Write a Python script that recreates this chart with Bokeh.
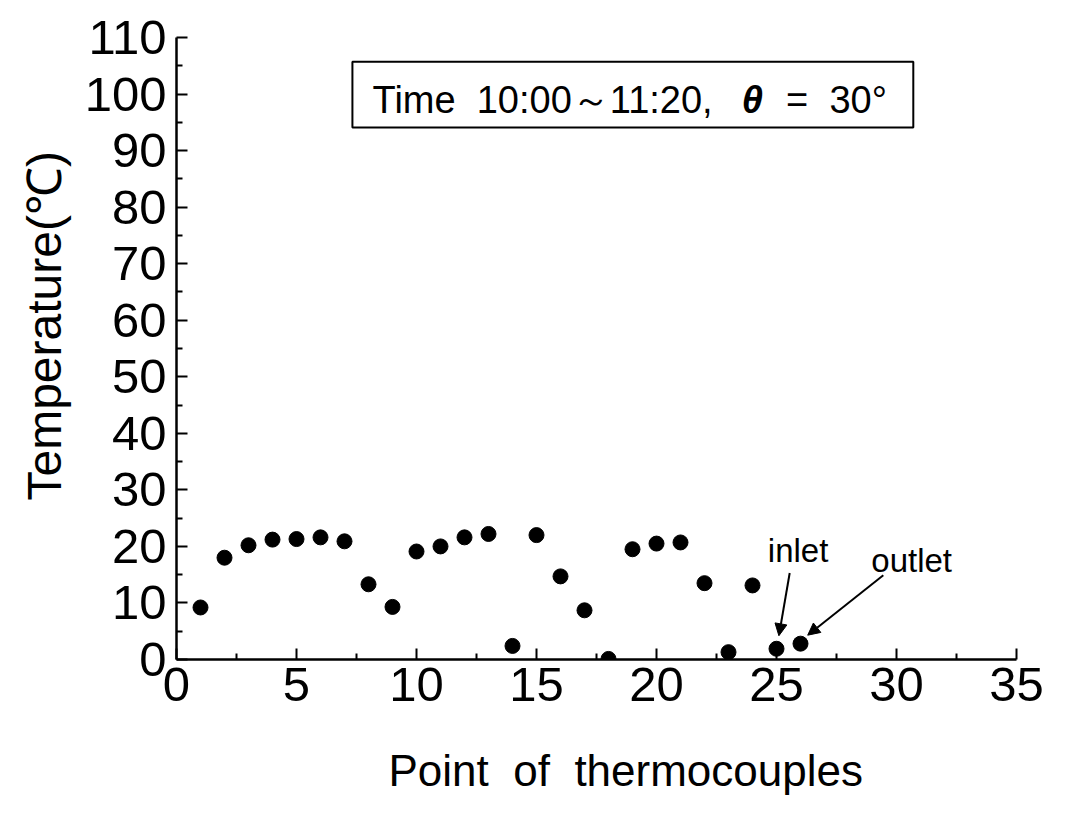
import math
from bokeh.plotting import figure
from bokeh.models import (ColumnDataSource, FixedTicker, Label, BoxAnnotation,
                          Arrow, NormalHead, Range1d, Title)
from bokeh.embed import file_html
from bokeh.resources import INLINE

# ---- data ----
points = list(range(1, 27))
temperature = [9.2, 18.0, 20.2, 21.2, 21.3, 21.6, 20.9, 13.3, 9.3, 19.1,
               20.0, 21.6, 22.2, 2.4, 22.0, 14.7, 8.7, 0.1, 19.5, 20.5,
               20.7, 13.5, 1.3, 13.1, 1.9, 2.8]
x_ticks = [0, 5, 10, 15, 20, 25, 30, 35]
x_minor = [2.5, 7.5, 12.5, 17.5, 22.5, 27.5, 32.5]
y_ticks = list(range(0, 111, 10))
y_minor = list(range(5, 110, 10))

FONT = "Liberation Sans"
NB = "\u00a0"

p = figure(width=1058, height=805, output_backend="svg", toolbar_location=None,
           x_range=Range1d(0, 35), y_range=Range1d(0, 110),
           min_border_left=176, min_border_right=42, min_border_top=37,
           min_border_bottom=146)
p.frame_width = 840
p.frame_height = 622
p.outline_line_color = None
p.xgrid.visible = False
p.ygrid.visible = False
p.background_fill_color = "white"

src = ColumnDataSource(dict(x=points, y=temperature))
p.scatter("x", "y", source=src, size=15, fill_color="black", line_color="black")

for ax, ticks, minor in ((p.xaxis[0], x_ticks, x_minor), (p.yaxis[0], y_ticks, y_minor)):
    ax.ticker = FixedTicker(ticks=ticks, minor_ticks=minor)
    ax.axis_line_width = 2.5
    ax.axis_line_color = "black"
    ax.major_tick_in = 11
    ax.major_tick_out = 0
    ax.minor_tick_in = 6
    ax.minor_tick_out = 0
    ax.major_tick_line_width = 2
    ax.minor_tick_line_width = 2
    ax.major_label_text_font = FONT
    ax.major_label_text_font_size = "49px"
    ax.major_label_text_color = "black"

p.xaxis.major_label_standoff = 8
p.yaxis.major_label_standoff = 10

# axis titles
p.add_layout(Title(text="Point" + NB * 2 + "of" + NB * 2 + "thermocouples", align="left",
                   offset=212, text_font=FONT, text_font_size="44px",
                   text_font_style="normal", text_color="black", standoff=80), "below")
p.add_layout(Title(text="Temperature(℃)", align="left", offset=159, text_font=FONT,
                   text_font_size="48px", text_font_style="normal", text_color="black",
                   standoff=22), "left")

# boxed annotation
p.add_layout(BoxAnnotation(left=7.33, right=30.7, bottom=94.1, top=105.7,
                           fill_color="white", fill_alpha=1.0,
                           line_color="black", line_alpha=1.0, line_width=2))
p.add_layout(Label(x=8.17, y=99.0, text="Time" + NB * 2 + "10:00～11:20,", text_font=FONT,
                   text_font_size="38px", text_baseline="alphabetic", text_color="black"))
p.add_layout(Label(x=23.55, y=99.0, text="θ", text_font=FONT, text_font_style="bold italic",
                   text_font_size="38px", text_baseline="alphabetic", text_color="black"))
p.add_layout(Label(x=25.4, y=99.0, text="=" + NB * 2 + "30°", text_font=FONT,
                   text_font_size="38px", text_baseline="alphabetic", text_color="black"))

# inlet / outlet annotations
p.add_layout(Label(x=25.9, y=19.3, text="inlet", text_font=FONT, text_font_size="33px",
                   text_align="center", text_baseline="alphabetic", text_color="black"))
p.add_layout(Label(x=28.95, y=17.5, text="outlet", text_font=FONT, text_font_size="33px",
                   text_baseline="alphabetic", text_color="black"))
p.add_layout(Arrow(x_start=25.55, y_start=15.3, x_end=25.1, y_end=4.2, line_width=2,
                   end=NormalHead(size=12, fill_color="black", line_color="black")))
p.add_layout(Arrow(x_start=29.45, y_start=14.9, x_end=26.3, y_end=4.3, line_width=2,
                   end=NormalHead(size=12, fill_color="black", line_color="black")))

open("out.html", "w").write(file_html(p, INLINE))
